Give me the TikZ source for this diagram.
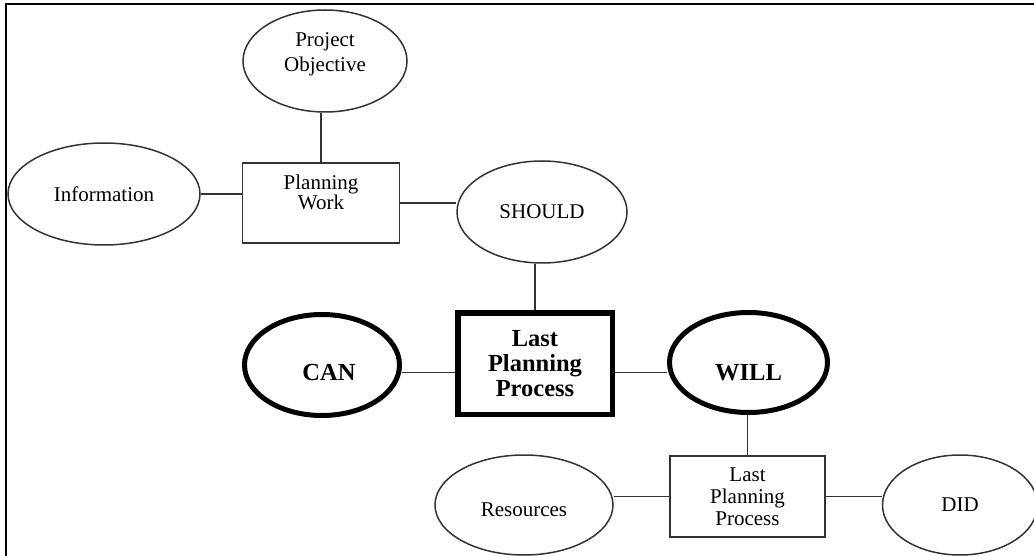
\documentclass[tikz,border=0pt]{standalone}
\usepackage{fontspec}
\setmainfont{Liberation Serif}
\usetikzlibrary{shapes.geometric}
\begin{document}
\begin{tikzpicture}[x=1pt,y=-1pt,
  plain text/.style={font=\fontsize{21}{21}\selectfont, align=center, inner sep=0pt},
  heavy text/.style={font=\bfseries\fontsize{24.5}{25}\selectfont, align=center, inner sep=0pt},
  oval/.style={ellipse, draw=black!80, line width=1.5pt, inner sep=0pt, plain text},
  box/.style={rectangle, draw=black!80, line width=1.5pt, inner sep=0pt, plain text},
  heavy oval/.style={ellipse, draw=black, line width=5pt, inner sep=0pt, heavy text},
  heavy box/.style={rectangle, draw=black, line width=5.5pt, inner sep=0pt, heavy text},
  link/.style={draw=black!80, line width=1.5pt},
  frame/.style={draw=black, line width=2pt}
]
\useasboundingbox (0,0) rectangle (1034,556);

% outer frame (top and left edges)
\coordinate (corner) at (6,4.3);
\draw[frame] (1034,4.3) -- (corner) -- (6,556);

% upper planning level
\node[oval, minimum width=164pt, minimum height=102pt,
      label={[plain text, font=\fontsize{21}{25}\selectfont, yshift=6.5pt]center:Project\\Objective}] (objective) at (325,61) {};
\node[oval, minimum width=192pt, minimum height=102pt] (information) at (104,194) {Information};
\node[box, minimum width=157pt, minimum height=80pt,
      label={[plain text, font=\fontsize{21}{20}\selectfont, yshift=11pt]center:Planning\\Work}] (work) at (321,203) {};
\node[oval, minimum width=170pt, minimum height=102pt] (should) at (542,212) {SHOULD};

% central process
\node[heavy box, minimum width=154.5pt, minimum height=101.5pt] (lpp) at (535,363.5) {Last\\Planning\\Process};
\node[heavy oval, minimum width=155pt, minimum height=101pt,
      label={[heavy text, xshift=7pt, yshift=-8pt]center:CAN}] (can) at (322,365) {};
\node[heavy oval, minimum width=158pt, minimum height=100pt,
      label={[heavy text, yshift=-10.5pt]center:WILL}] (will) at (748.5,362.5) {};

% lower level
\node[box, minimum width=155pt, minimum height=81pt, font=\fontsize{21}{22}\selectfont] (lppsmall) at (747.5,496.5) {Last\\Planning\\Process};
\node[oval, minimum width=178pt, minimum height=100pt,
      label={[plain text, yshift=-5pt]center:Resources}] (resources) at (524,505) {};
\node[oval, minimum width=155pt, minimum height=100pt] (did) at (960,505) {DID};

% connectors
\draw[link] (work.north) -- (work.north |- objective.south);
\draw[link] (information.east) -- (information.east -| work.west);
\draw[link] (work.east) -- (work.east -| should.west);
\draw[link] (lpp.north) -- (lpp.north |- should.south);
\draw[link] ([yshift=-9pt]lpp.west) -- ([yshift=-9pt]lpp.west -| can.east);
\draw[link] ([yshift=-9pt]lpp.east) -- ([yshift=-9pt]lpp.east -| will.west);
\draw[link] (lppsmall.north) -- (lppsmall.north |- will.south);
\draw[link] (lppsmall.west) -- (lppsmall.west -| resources.east);
\draw[link] (lppsmall.east) -- (lppsmall.east -| did.west);
\end{tikzpicture}
\end{document}
